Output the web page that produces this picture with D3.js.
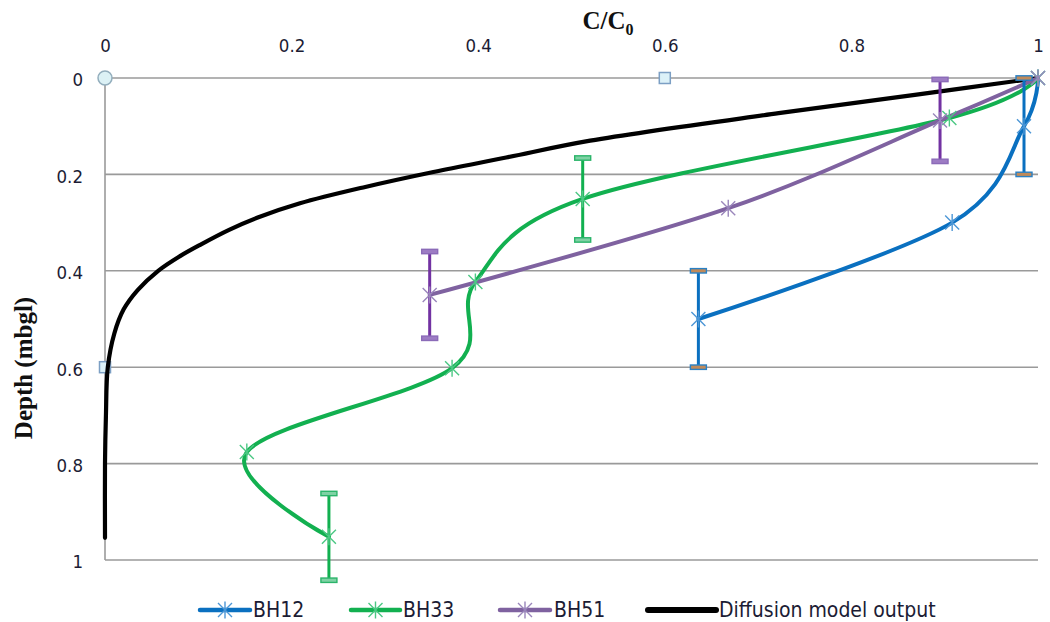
<!DOCTYPE html>
<html>
<head>
<meta charset="utf-8">
<script src="https://cdn.jsdelivr.net/npm/d3@7"></script>
<style>
  html, body { margin: 0; padding: 0; background: #fff; }
  svg { display: block; }
</style>
</head>
<body>
<svg id="chart" width="1050" height="622"></svg>
<script>
// Relative concentration (C/C0) against depth below ground level
const xTicks = [0, 0.2, 0.4, 0.6, 0.8, 1];
const xTickLabels = ["0", "0.2", "0.4", "0.6", "0.8", "1"];
const yTicks = [0, 0.2, 0.4, 0.6, 0.8, 1];
const yTickLabels = ["0", "0.2", "0.4", "0.6", "0.8", "1"];

const seriesNames = ["BH12", "BH33", "BH51", "Diffusion model output"];

// Borehole BH12
const bh12C     = [1.0, 0.985, 0.908, 0.636];
const bh12Depth = [0.0, 0.10, 0.30, 0.50];
const bh12Err   = [null, 0.10, null, 0.10];

// Borehole BH33
const bh33C     = [1.0, 0.905, 0.512, 0.397, 0.372, 0.152, 0.240];
const bh33Depth = [0.0, 0.083, 0.251, 0.423, 0.602, 0.776, 0.952];
const bh33Err   = [null, null, 0.085, null, null, null, 0.09];

// Borehole BH51
const bh51C     = [1.0, 0.895, 0.668, 0.348];
const bh51Depth = [0.0, 0.088, 0.270, 0.450];
const bh51Err   = [null, 0.085, null, 0.09];

// Diffusion model profile
const diffDepth = [0.0, 0.035, 0.073, 0.13, 0.165, 0.195, 0.226, 0.26, 0.29, 0.315, 0.345, 0.37, 0.40, 0.44, 0.48, 0.53, 0.60, 0.70, 0.80, 0.954];
const diffC     = [1.0, 0.868, 0.722, 0.52, 0.43, 0.352, 0.279, 0.209, 0.163, 0.133, 0.103, 0.080, 0.057, 0.035, 0.020, 0.010, 0.003, 0.001, 0.0, 0.0];

// Stray chart points sitting on the axes
const extraC     = [0, 0.6, 0];
const extraDepth = [0, 0, 0.6];
const extraShape = ["circle", "square", "square"];

const svg = d3.select("#chart");
const x = d3.scaleLinear().domain([0, 1]).range([105, 1038]);
const y = d3.scaleLinear().domain([0, 1]).range([78, 560]);

const tickFont = "'DejaVu Sans Condensed', 'DejaVu Sans', sans-serif";
const tickSize = 18.5;

// Horizontal gridlines
svg.append("g").selectAll("line").data(yTicks).join("line")
  .attr("x1", x(0)).attr("x2", x(1))
  .attr("y1", d => y(d)).attr("y2", d => y(d))
  .attr("stroke", "#9a9a9a").attr("stroke-width", 1.6);

// Vertical axis line
svg.append("line")
  .attr("x1", x(0)).attr("x2", x(0)).attr("y1", y(0)).attr("y2", y(1))
  .attr("stroke", "#9a9a9a").attr("stroke-width", 1.6);

// Top axis labels
const xAxis = d3.axisTop(x).tickValues(xTicks).tickSize(0).tickPadding(0)
  .tickFormat((d, i) => xTickLabels[i]);
const gx = svg.append("g").attr("transform", "translate(0,52)").call(xAxis);
gx.select(".domain").remove();
gx.selectAll("text").attr("font-family", tickFont).attr("font-size", tickSize)
  .attr("fill", "#1c1c34").attr("dy", 0);

// Left axis labels
const yAxis = d3.axisLeft(y).tickValues(yTicks).tickSize(0).tickPadding(0)
  .tickFormat((d, i) => yTickLabels[i]);
const gy = svg.append("g").attr("transform", "translate(83,2)").call(yAxis);
gy.select(".domain").remove();
gy.selectAll("text").attr("font-family", tickFont).attr("font-size", tickSize)
  .attr("fill", "#1c1c34");

// Axis titles
const xTitle = svg.append("text")
  .attr("x", 608).attr("y", 29).attr("text-anchor", "middle")
  .attr("font-family", "'Liberation Serif', 'Times New Roman', serif")
  .attr("font-weight", "bold").attr("font-size", 25).attr("fill", "#111");
xTitle.append("tspan").text("C/C");
xTitle.append("tspan").attr("font-size", 16).attr("dy", 6).text("0");

svg.append("text")
  .attr("transform", "translate(32,368) rotate(-90)")
  .attr("text-anchor", "middle")
  .attr("font-family", "'Liberation Serif', 'Times New Roman', serif")
  .attr("font-weight", "bold").attr("font-size", 25).attr("fill", "#111")
  .text("Depth (mbgl)");

// Stray light-blue markers
extraC.forEach((c, i) => {
  if (extraShape[i] === "circle") {
    svg.append("circle").attr("cx", x(c)).attr("cy", y(extraDepth[i])).attr("r", 7)
      .attr("fill", "#dcf1f5").attr("stroke", "#93aebd").attr("stroke-width", 1.5);
  } else {
    svg.append("rect").attr("x", x(c) - 5.5).attr("y", y(extraDepth[i]) - 5.5)
      .attr("width", 11).attr("height", 11)
      .attr("fill", "#dcf1f8").attr("stroke", "#7c9fc4").attr("stroke-width", 1.5);
  }
});

const smooth = d3.line().curve(d3.curveCatmullRom.alpha(0));

const series = [
  { name: "BH12", c: bh12C, d: bh12Depth, e: bh12Err, color: "#0a70c0", marker: "#4d97d6", bar: "#0a70c0", cap: "#c08a5a", capStroke: "#2a80c4" },
  { name: "BH33", c: bh33C, d: bh33Depth, e: bh33Err, color: "#12b050", marker: "#4cc884", bar: "#12b050", cap: "#7fd2a4", capStroke: "#2bb46a" },
  { name: "BH51", c: bh51C, d: bh51Depth, e: bh51Err, color: "#7f62a0", marker: "#9a86bb", bar: "#7232a2", cap: "#9d7cc4", capStroke: "#8b6bb8" }
];

const starPath = "M-7,-7L7,7M-7,7L7,-7M0,-8.5L0,8.5";

// Diffusion model curve
const diffLine = d3.line().curve(d3.curveCatmullRom.alpha(0.5));
svg.append("path")
  .attr("d", diffLine(diffC.map((c, i) => [x(c), y(diffDepth[i])])))
  .attr("fill", "none").attr("stroke", "#000").attr("stroke-width", 4.2)
  .attr("stroke-linecap", "round");

// Borehole curves
series.forEach(s => {
  svg.append("path")
    .attr("d", smooth(s.c.map((c, i) => [x(c), y(s.d[i])])))
    .attr("fill", "none").attr("stroke", s.color).attr("stroke-width", 4)
    .attr("stroke-linecap", "round");
});

// Error bars
series.forEach(s => {
  s.c.forEach((c, i) => {
    const e = s.e[i];
    if (e == null) return;
    const g = svg.append("g");
    g.append("line")
      .attr("x1", x(c)).attr("x2", x(c))
      .attr("y1", y(s.d[i] - e)).attr("y2", y(s.d[i] + e))
      .attr("stroke", s.bar).attr("stroke-width", 3);
    [s.d[i] - e, s.d[i] + e].forEach(v => {
      g.append("rect")
        .attr("x", x(c) - 8).attr("y", y(v) - 2.2)
        .attr("width", 16).attr("height", 4.4)
        .attr("fill", s.cap).attr("stroke", s.capStroke).attr("stroke-width", 1.4);
    });
  });
});

// Star markers
series.forEach(s => {
  svg.append("g").selectAll("path").data(s.c.map((c, i) => [c, s.d[i]])).join("path")
    .attr("transform", d => `translate(${x(d[0])},${y(d[1])})`)
    .attr("d", starPath)
    .attr("fill", "none").attr("stroke", s.marker).attr("stroke-width", 1.4);
});

// Legend
const legendY = 610;
const legendItems = [
  { x0: 200, x1: 250, tx: 253, color: "#0a70c0", marker: "#4d97d6", star: true, label: seriesNames[0] },
  { x0: 351, x1: 400, tx: 403, color: "#12b050", marker: "#4cc884", star: true, label: seriesNames[1] },
  { x0: 500, x1: 550, tx: 554, color: "#7f62a0", marker: "#9a86bb", star: true, label: seriesNames[2] },
  { x0: 648, x1: 716, tx: 719, color: "#000", marker: null, star: false, label: seriesNames[3] }
];
const lg = svg.append("g");
legendItems.forEach(it => {
  lg.append("line").attr("x1", it.x0).attr("x2", it.x1).attr("y1", legendY).attr("y2", legendY)
    .attr("stroke", it.color).attr("stroke-width", it.star ? 4.5 : 6).attr("stroke-linecap", "round");
  if (it.star) {
    lg.append("path").attr("transform", `translate(${(it.x0 + it.x1) / 2},${legendY})`)
      .attr("d", starPath).attr("fill", "none").attr("stroke", it.marker).attr("stroke-width", 1.4);
  }
  lg.append("text").attr("x", it.tx).attr("y", legendY + 7)
    .attr("font-family", tickFont).attr("font-size", 21).attr("fill", "#1c1c34")
    .text(it.label);
});
</script>
</body>
</html>
